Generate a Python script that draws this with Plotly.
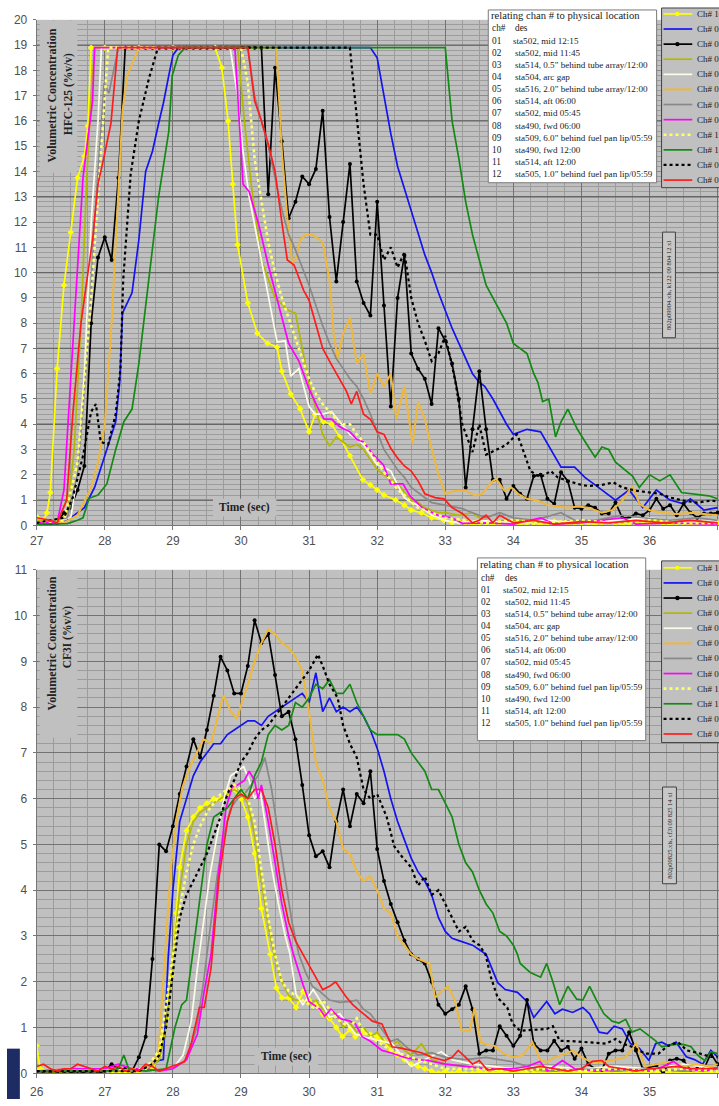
import plotly.graph_objects as go

W, H = 719, 1106


def PX(x):
    return x / W


def PY(y):
    return 1 - y / H


# ---------------- DATA : HFC-125 (top) ----------------
top_grid = [round(27 + 0.1 * i, 1) for i in range(101)]

top_ch10 = [(27.0,0.35),(27.1,0.2),(27.15,0.5),(27.2,1.3),(27.3,6.2),(27.4,9.5),(27.5,11.6),(27.6,13.75),(27.7,14.6),(27.75,15.8),(27.8,18.9),(28.0,18.9),(28.5,18.9),(29.0,18.9),(29.62,18.9),(29.72,18.1),(29.81,16.0),(29.88,13.5),(29.95,11.1),(30.1,8.8),(30.24,7.6),(30.39,7.2),(30.53,7.05),(30.6,6.1),(30.73,5.2),(30.87,4.6),(31.0,3.7),(31.09,4.4),(31.21,4.1),(31.33,4.0),(31.45,3.5),(31.6,2.75),(31.79,1.8),(31.9,1.6),(32.0,1.4),(32.1,1.2),(32.27,1.0),(32.4,0.8),(32.5,0.6),(32.65,0.5),(32.8,0.3),(32.98,0.2),(33.1,0.1),(33.2,0.15),(33.3,0.1),(33.4,0.05),(33.5,0.1),(33.6,0.1),(33.7,0.05),(33.8,0.1),(33.9,0.15),(34.0,0.1),(34.1,0.05),(34.2,0.1),(34.3,0.1),(34.4,0.05),(34.5,0.1),(34.6,0.15),(34.7,0.1),(34.8,0.05),(34.9,0.1),(35.0,0.1),(35.1,0.1),(35.2,0.05),(35.3,0.1),(35.4,0.15),(35.5,0.1),(35.6,0.05),(35.7,0.1),(35.8,0.1),(35.9,0.05),(36.0,0.1),(36.1,0.15),(36.2,0.1),(36.3,0.05),(36.4,0.1),(36.5,0.1),(36.6,0.05),(36.7,0.1),(36.8,0.1),(36.9,0.05),(37.0,0.1)]

top_ch02 = [(27.0,0.05),(27.2,0.05),(27.4,0.1),(27.5,0.3),(27.7,0.7),(27.85,1.5),(28.0,2.8),(28.16,4.1),(28.22,5.7),(28.26,8.4),(28.4,9.2),(28.5,11.3),(28.6,14.0),(28.7,14.8),(28.79,15.9),(28.86,16.7),(28.94,17.8),(29.0,18.6),(29.08,18.9),(31.9,18.9),(32.0,18.5),(32.1,17.0),(32.2,15.5),(32.3,14.2),(32.4,13.3),(32.5,12.5),(32.6,11.5),(32.7,10.7),(32.8,10.0),(32.9,9.2),(33.0,8.5),(33.1,7.8),(33.2,7.2),(33.3,6.6),(33.4,6.0),(33.5,5.66),(33.58,5.5),(33.7,5.0),(33.8,4.5),(33.9,4.0),(34.0,3.6),(34.2,3.8),(34.4,3.7),(34.55,3.0),(34.7,2.3),(34.9,2.3),(35.05,1.9),(35.2,1.6),(35.35,1.3),(35.5,1.0),(35.7,1.4),(35.9,0.7),(36.1,1.4),(36.3,1.0),(36.5,0.85),(36.6,1.05),(36.8,0.6),(37.0,0.7)]

top_ch03_v = [0.1,0.1,0.1,0.1,0.5,0.7,1.4,2.35,8.0,10.6,
              11.4,10.5,13.75,18.9,18.9,18.9,18.9,18.9,18.9,18.9,
              18.9,18.9,18.9,18.9,18.9,18.9,18.9,18.9,18.9,18.9,
              18.9,18.9,18.9,18.9,13.1,18.1,15.2,12.15,12.8,13.8,
              13.5,14.1,16.4,12.2,9.65,12.0,14.3,9.65,8.8,8.3,
              12.8,8.7,4.7,9.0,10.7,6.8,6.2,5.8,4.8,7.8,
              7.3,6.4,5.0,1.5,3.8,6.1,3.8,1.8,1.8,1.05,
              1.56,1.25,1.05,1.95,2.0,1.05,0.85,2.1,1.75,0.7,
              0.66,0.8,0.7,0.47,0.47,0.9,0.3,0.3,0.47,0.4,
              0.6,1.05,0.66,0.8,0.4,0.85,0.5,0.3,0.47,0.47,0.5]

top_ch04 = [(27.0,0.2),(27.3,0.1),(27.45,0.5),(27.55,3.0),(27.65,8.0),(27.74,14.0),(27.8,17.0),(27.85,18.9),(29.95,18.9),(30.05,16.0),(30.15,13.5),(30.3,10.5),(30.5,9.0),(30.7,8.5),(30.8,8.4),(30.9,7.0),(31.0,5.6),(31.1,4.6),(31.2,3.6),(31.3,3.15),(31.4,3.5),(31.5,3.3),(31.6,3.1),(31.7,3.2),(31.8,3.0),(31.9,2.6),(32.0,2.2),(32.1,2.0),(32.2,1.8),(32.3,1.64),(32.4,1.3),(32.5,1.0),(32.6,0.9),(32.7,0.7),(32.8,0.6),(32.9,0.5),(33.0,0.5),(33.2,0.4),(33.4,0.5),(33.5,0.3),(33.7,0.1),(34.0,0.2),(34.5,0.1),(35.0,0.15),(35.5,0.1),(36.0,0.2),(36.5,0.1),(37.0,0.1)]

top_ch05 = [(27.0,0.1),(27.5,0.3),(27.6,2.0),(27.7,6.0),(27.8,12.0),(27.9,16.0),(27.95,18.9),(29.84,18.9),(29.95,17.0),(30.03,14.8),(30.12,13.0),(30.26,11.1),(30.4,9.1),(30.53,7.25),(30.65,7.3),(30.73,5.9),(30.85,6.2),(31.0,4.7),(31.09,4.4),(31.2,4.4),(31.33,4.5),(31.45,4.1),(31.6,3.6),(31.8,3.2),(31.9,2.8),(32.0,2.4),(32.1,2.3),(32.2,2.15),(32.3,1.6),(32.4,1.1),(32.5,0.9),(32.6,0.8),(32.7,0.6),(32.8,0.4),(32.9,0.3),(33.0,0.2),(33.2,0.1),(33.5,0.2),(34.0,0.1),(34.5,0.2),(35.0,0.1),(35.5,0.2),(36.0,0.3),(36.5,0.1),(37.0,0.2)]

top_ch07 = [(27.0,0.1),(27.4,0.1),(27.6,0.4),(27.8,1.5),(27.9,2.5),(28.0,4.0),(28.1,8.0),(28.16,11.0),(28.26,16.4),(28.33,17.8),(28.47,18.7),(28.5,18.9),(30.52,18.9),(30.6,14.8),(30.68,12.2),(30.75,10.4),(30.8,10.5),(30.87,11.3),(30.95,11.5),(31.05,11.5),(31.2,11.2),(31.3,9.7),(31.36,7.6),(31.42,6.6),(31.5,7.6),(31.6,8.2),(31.7,6.4),(31.8,6.8),(31.9,5.2),(32.0,6.0),(32.1,5.5),(32.2,6.0),(32.28,4.2),(32.4,5.5),(32.52,3.2),(32.6,4.9),(32.7,4.2),(32.78,3.25),(32.9,2.0),(33.0,1.25),(33.15,1.37),(33.3,1.37),(33.44,1.17),(33.54,1.25),(33.7,1.76),(33.75,1.83),(33.87,1.37),(33.97,1.5),(34.07,1.25),(34.2,1.05),(34.36,0.98),(34.5,0.8),(34.65,0.75),(34.8,0.7),(34.95,0.75),(35.1,0.7),(35.3,0.5),(35.45,0.6),(35.6,0.98),(35.75,1.56),(35.85,0.85),(36.0,0.6),(36.2,0.5),(36.4,0.45),(36.6,0.5),(36.8,0.45),(37.0,0.4)]

top_ch06 = [(27.0,0.1),(27.45,0.3),(27.6,2.0),(27.75,7.0),(27.85,12.0),(27.95,16.0),(27.99,17.5),(28.06,17.1),(28.2,18.9),(30.1,18.9),(30.2,17.0),(30.4,15.0),(30.6,12.5),(30.7,11.5),(30.8,10.9),(31.0,9.5),(31.1,8.7),(31.2,7.9),(31.3,7.2),(31.4,6.6),(31.5,6.2),(31.6,5.8),(31.7,5.5),(31.8,5.0),(31.9,4.4),(32.0,3.7),(32.1,3.0),(32.2,2.6),(32.3,2.2),(32.4,1.9),(32.5,1.5),(32.6,1.3),(32.7,1.1),(32.8,0.9),(33.0,0.8),(33.25,0.66),(33.4,0.5),(33.6,0.3),(33.8,0.5),(34.0,0.3),(34.3,0.2),(34.7,0.5),(34.9,0.2),(35.2,0.2),(35.6,0.4),(35.9,0.3),(36.3,0.2),(36.7,0.3),(37.0,0.2)]

top_ch08 = [(27.0,0.1),(27.3,0.1),(27.4,1.4),(27.56,8.4),(27.68,13.75),(27.82,16.8),(27.85,18.9),(29.91,18.9),(29.97,16.0),(30.03,13.5),(30.12,13.2),(30.26,11.9),(30.4,10.3),(30.55,8.7),(30.7,7.2),(30.85,6.5),(31.0,5.4),(31.12,4.7),(31.22,4.2),(31.33,4.2),(31.45,3.9),(31.6,3.7),(31.7,3.4),(31.8,3.3),(31.94,2.8),(32.09,2.4),(32.2,1.64),(32.38,1.64),(32.48,1.17),(32.66,0.7),(32.9,0.39),(33.1,0.3),(33.25,0.08),(33.6,0.1),(34.0,0.05),(34.4,0.3),(34.6,0.05),(35.0,0.1),(35.6,0.3),(35.8,0.05),(36.3,0.1),(37.0,0.05)]

top_ch11 = [(27.0,0.1),(27.4,0.2),(27.6,2.5),(27.8,9.0),(27.9,13.0),(27.96,15.2),(28.05,18.9),(30.0,18.9),(30.1,17.5),(30.2,14.5),(30.3,12.8),(30.4,11.2),(30.5,10.0),(30.6,9.0),(30.7,8.2),(30.8,7.4),(30.9,6.6),(31.0,5.8),(31.1,5.2),(31.2,4.8),(31.3,4.5),(31.4,4.2),(31.5,4.0),(31.6,4.0),(31.7,3.6),(31.8,3.3),(31.9,2.9),(32.0,2.5),(32.1,2.1),(32.2,1.8),(32.3,1.4),(32.4,1.2),(32.5,0.9),(32.6,0.7),(32.8,0.5),(33.0,0.3),(33.3,0.2),(33.6,0.1),(34.0,0.2),(34.5,0.1),(35.0,0.2),(35.5,0.1),(36.0,0.2),(36.5,0.1),(37.0,0.1)]

top_ch12 = [(27.0,0.05),(27.45,0.07),(27.6,0.2),(27.68,0.3),(27.77,1.07),(27.9,1.2),(28.03,1.64),(28.16,3.0),(28.28,4.1),(28.4,4.6),(28.5,6.4),(28.65,9.7),(28.79,13.0),(28.94,15.6),(28.99,17.8),(29.08,18.6),(29.18,18.9),(33.0,18.9),(33.05,17.5),(33.1,16.0),(33.2,14.5),(33.3,12.8),(33.4,11.5),(33.5,10.5),(33.6,9.5),(33.7,9.0),(33.8,8.5),(33.9,8.0),(34.0,7.2),(34.1,7.0),(34.2,6.8),(34.3,6.0),(34.36,5.66),(34.43,4.9),(34.52,5.0),(34.62,3.5),(34.7,4.1),(34.8,4.6),(34.94,3.8),(35.08,3.2),(35.2,2.7),(35.3,3.1),(35.4,3.0),(35.5,2.5),(35.66,2.15),(35.75,1.95),(35.85,1.5),(36.0,2.0),(36.15,1.76),(36.3,2.0),(36.47,1.3),(36.6,1.25),(36.87,1.17),(37.0,1.05)]

top_ch09 = [(27.0,0.1),(27.4,0.3),(27.53,1.1),(27.68,2.75),(27.8,4.5),(27.87,4.8),(27.94,3.3),(28.05,3.2),(28.16,4.4),(28.23,6.2),(28.27,9.7),(28.38,13.9),(28.5,16.0),(28.65,17.7),(28.78,18.9),(31.6,18.9),(31.65,17.5),(31.7,16.2),(31.8,13.5),(31.9,11.5),(32.0,11.5),(32.1,10.5),(32.2,11.0),(32.3,10.2),(32.4,10.8),(32.5,9.0),(32.6,8.0),(32.7,7.3),(32.8,6.5),(32.9,6.8),(33.0,7.5),(33.1,6.3),(33.15,5.66),(33.25,4.0),(33.4,2.9),(33.5,4.0),(33.6,2.8),(33.8,3.05),(33.9,3.2),(34.05,3.6),(34.1,3.3),(34.25,2.15),(34.4,1.9),(34.55,2.15),(34.65,1.9),(34.8,1.76),(35.0,1.6),(35.1,1.56),(35.3,1.6),(35.47,1.7),(35.6,1.5),(35.8,1.37),(36.0,1.3),(36.15,1.25),(36.3,1.1),(36.5,0.98),(36.7,0.9),(36.9,0.98),(37.0,0.95)]

top_ch01 = [(27.0,0.3),(27.2,0.2),(27.3,0.1),(27.44,1.0),(27.53,4.4),(27.65,8.0),(27.82,11.3),(27.9,13.5),(27.99,14.6),(28.09,15.9),(28.19,18.9),(30.1,18.9),(30.2,16.8),(30.3,16.0),(30.4,15.1),(30.5,14.0),(30.6,12.0),(30.68,10.5),(30.78,10.3),(30.92,9.3),(31.0,8.9),(31.1,8.0),(31.2,7.0),(31.32,6.4),(31.43,5.9),(31.55,5.3),(31.62,4.8),(31.7,5.3),(31.8,4.4),(31.9,4.2),(32.0,3.7),(32.1,3.6),(32.2,3.05),(32.3,2.66),(32.4,2.35),(32.5,2.15),(32.6,1.76),(32.7,1.25),(32.85,1.1),(32.98,1.05),(33.1,0.7),(33.25,0.47),(33.4,0.1),(33.5,0.2),(33.6,0.4),(33.7,0.1),(33.8,0.4),(34.0,0.1),(34.3,0.2),(34.6,0.05),(35.0,0.15),(35.4,0.1),(35.8,0.2),(36.2,0.1),(36.6,0.2),(37.0,0.1)]

# ---------------- DATA : CF3I (bottom) ----------------
bot_grid = [round(26 + 0.1 * i, 1) for i in range(101)]

bot_ch10 = [(26.0,0.6),(26.05,0.1),(26.1,0.05),(26.3,0.0),(26.5,0.05),(26.7,0.1),(26.9,0.05),(27.1,0.05),(27.3,0.0),(27.5,0.05),(27.7,0.1),(27.8,0.4),(27.9,1.2),(27.98,2.15),(28.05,3.5),(28.1,4.5),(28.2,5.3),(28.3,5.6),(28.4,5.8),(28.5,5.9),(28.6,6.0),(28.7,6.0),(28.8,6.1),(28.9,6.2),(29.0,6.0),(29.1,5.6),(29.2,4.8),(29.3,3.6),(29.43,2.6),(29.52,1.87),(29.6,1.65),(29.7,1.65),(29.81,1.44),(29.91,1.79),(30.0,1.6),(30.1,1.5),(30.2,1.3),(30.3,1.2),(30.4,1.0),(30.49,0.8),(30.6,0.95),(30.68,0.8),(30.8,0.9),(30.9,0.85),(31.0,0.8),(31.1,0.7),(31.2,0.5),(31.3,0.4),(31.4,0.3),(31.5,0.2),(31.6,0.15),(31.7,0.1),(31.8,0.05),(31.9,0.0),(32.0,0.05),(32.1,0.0),(32.2,0.05),(32.3,0.0),(32.4,0.0),(32.5,0.05),(32.6,0.0),(32.7,0.0),(32.8,0.05),(32.9,0.0),(33.0,0.0),(33.1,0.05),(33.2,0.0),(33.3,0.0),(33.4,0.05),(33.5,0.0),(33.6,0.0),(33.7,0.05),(33.8,0.0),(33.9,0.0),(34.0,0.05),(34.1,0.0),(34.2,0.0),(34.3,0.05),(34.4,0.0),(34.5,0.0),(34.6,0.05),(34.7,0.0),(34.8,0.0),(34.9,0.05),(35.0,0.0),(35.1,0.0),(35.2,0.05),(35.3,0.0),(35.4,0.0),(35.5,0.05),(35.6,0.0),(35.7,0.0),(35.8,0.05),(35.9,0.0),(36.0,0.0)]

bot_ch02 = [(26.0,0.05),(26.5,0.05),(27.0,0.05),(27.5,0.1),(27.7,0.2),(27.79,0.28),(27.86,0.3),(27.93,2.5),(28.0,4.0),(28.1,5.5),(28.2,6.0),(28.3,6.5),(28.4,6.8),(28.5,7.0),(28.6,7.2),(28.7,7.2),(28.8,7.4),(28.9,7.5),(29.0,7.6),(29.1,7.7),(29.2,7.7),(29.3,7.6),(29.4,7.8),(29.5,7.9),(29.6,8.0),(29.7,8.1),(29.8,8.2),(29.9,8.3),(30.0,8.1),(30.1,8.75),(30.2,7.9),(30.3,8.2),(30.4,7.9),(30.5,8.0),(30.6,7.9),(30.7,8.0),(30.8,7.8),(30.9,7.5),(31.0,7.1),(31.1,6.6),(31.2,6.0),(31.3,5.5),(31.4,5.1),(31.5,4.7),(31.6,4.4),(31.7,4.2),(31.8,3.9),(31.9,3.4),(32.0,3.1),(32.1,2.95),(32.2,2.9),(32.3,2.85),(32.4,2.8),(32.5,2.7),(32.6,2.6),(32.77,1.98),(32.88,1.83),(33.06,1.77),(33.2,1.57),(33.3,1.22),(33.49,1.57),(33.61,1.3),(33.72,1.4),(33.87,1.33),(34.02,1.44),(34.12,1.3),(34.26,0.9),(34.38,0.87),(34.48,1.03),(34.6,0.97),(34.72,0.65),(34.85,0.55),(34.99,0.28),(35.09,0.65),(35.18,0.68),(35.28,0.6),(35.39,0.68),(35.54,0.36),(35.66,0.3),(35.78,0.2),(35.9,0.5),(36.0,0.36)]

bot_ch03_v = [0,0,0,0,0,0,0.05,0,0,0,
              0.05,0.2,0.1,0.1,0.05,0.35,0.8,2.5,5.0,4.85,
              5.4,6.1,6.7,7.3,6.9,7.5,8.25,9.1,8.8,8.3,
              8.3,8.9,9.9,9.4,9.6,8.7,7.8,7.9,7.3,6.3,
              5.2,4.74,4.85,4.5,5.5,6.2,5.4,6.1,5.9,6.6,
              4.9,4.2,3.7,3.3,2.9,2.6,2.5,2.4,2.0,1.5,
              1.3,1.4,1.5,1.9,1.4,0.43,0.5,0.5,1.03,0.82,
              0.6,0.82,1.6,0.65,0.5,0.5,0.71,0.5,0.58,0.32,
              0.54,0.2,0.1,0.07,0.43,0.5,0.5,0.9,0.5,0.1,
              0.12,0.17,0.0,0.28,0.32,0.28,0.07,0.1,0.1,0.43,0.2]

bot_ch04 = [(26.0,0.05),(27.0,0.05),(27.6,0.05),(27.8,0.3),(27.9,1.0),(28.0,2.5),(28.1,4.0),(28.2,5.0),(28.3,5.5),(28.4,5.7),(28.5,5.8),(28.6,5.9),(28.7,6.0),(28.8,6.1),(28.9,6.2),(29.0,6.1),(29.1,5.9),(29.2,5.2),(29.3,4.2),(29.4,3.2),(29.5,2.5),(29.6,2.0),(29.7,1.7),(29.8,1.6),(29.9,1.6),(30.0,1.5),(30.1,1.6),(30.2,1.4),(30.3,1.2),(30.4,1.3),(30.5,1.0),(30.6,1.1),(30.7,0.9),(30.8,1.0),(30.9,0.8),(31.0,0.9),(31.1,0.7),(31.2,0.6),(31.3,0.7),(31.4,0.5),(31.5,0.4),(31.65,0.65),(31.8,0.3),(32.0,0.2),(32.3,0.15),(32.6,0.1),(33.0,0.1),(33.5,0.05),(34.0,0.1),(34.5,0.05),(35.0,0.1),(35.5,0.05),(36.0,0.1)]

bot_ch05 = [(26.0,0.05),(26.5,0.05),(27.0,0.1),(27.5,0.05),(28.0,0.1),(28.15,0.4),(28.27,1.14),(28.36,2.3),(28.45,3.3),(28.54,4.3),(28.65,5.2),(28.75,6.0),(28.85,6.5),(28.95,6.6),(29.04,6.7),(29.12,6.4),(29.2,6.0),(29.28,6.2),(29.35,5.5),(29.45,4.5),(29.55,3.7),(29.65,3.0),(29.72,2.6),(29.81,1.72),(29.91,1.5),(30.06,1.83),(30.2,1.5),(30.3,1.22),(30.45,1.3),(30.6,1.0),(30.68,0.86),(30.8,0.8),(30.95,0.75),(31.1,0.7),(31.22,0.65),(31.35,0.4),(31.5,0.15),(31.7,0.3),(31.94,0.47),(32.1,0.3),(32.4,0.2),(32.7,0.15),(33.0,0.1),(33.5,0.15),(34.0,0.1),(34.5,0.15),(35.0,0.1),(35.5,0.2),(36.0,0.1)]

bot_ch07 = [(26.0,0.05),(26.5,0.1),(27.0,0.05),(27.3,0.05),(27.5,0.1),(27.7,0.2),(27.79,0.5),(27.88,2.6),(27.97,4.5),(28.06,5.6),(28.14,6.25),(28.25,6.7),(28.35,7.0),(28.45,7.3),(28.56,7.2),(28.71,8.1),(28.75,8.25),(28.85,7.9),(28.94,7.75),(29.04,8.2),(29.12,8.6),(29.2,9.0),(29.3,9.4),(29.4,9.7),(29.5,9.6),(29.6,9.4),(29.7,9.3),(29.8,9.1),(29.9,8.8),(30.0,7.9),(30.1,6.8),(30.2,6.4),(30.3,5.8),(30.4,5.5),(30.5,4.9),(30.6,4.8),(30.7,4.4),(30.8,4.2),(30.9,4.3),(31.0,4.0),(31.1,3.6),(31.2,3.5),(31.3,3.0),(31.4,2.8),(31.5,2.6),(31.6,2.5),(31.7,2.45),(31.77,2.4),(31.85,1.65),(31.95,1.8),(32.04,1.9),(32.14,1.6),(32.24,0.93),(32.36,0.93),(32.43,1.44),(32.52,0.68),(32.62,0.62),(32.72,0.6),(32.86,0.43),(33.0,0.35),(33.14,0.4),(33.28,0.68),(33.4,0.28),(33.5,0.25),(33.6,0.35),(33.78,0.43),(33.87,0.5),(34.0,0.35),(34.15,0.25),(34.3,0.25),(34.5,0.3),(34.65,0.36),(34.8,0.65),(34.94,0.15),(35.1,0.2),(35.3,0.25),(35.5,0.15),(35.7,0.2),(35.9,0.15),(36.0,0.2)]

bot_ch06 = [(26.0,0.05),(27.0,0.05),(27.5,0.05),(28.0,0.1),(28.2,0.3),(28.35,1.0),(28.45,2.0),(28.55,3.2),(28.65,4.3),(28.75,5.2),(28.85,5.8),(28.95,6.0),(29.05,6.1),(29.15,6.3),(29.25,6.5),(29.35,6.9),(29.45,6.2),(29.55,5.2),(29.65,4.2),(29.75,3.3),(29.85,2.6),(29.95,2.2),(30.05,1.9),(30.15,1.8),(30.3,1.6),(30.45,1.55),(30.6,1.57),(30.7,1.6),(30.8,1.4),(30.9,1.3),(31.0,1.1),(31.1,0.9),(31.2,0.7),(31.3,0.75),(31.45,0.55),(31.6,0.4),(31.8,0.45),(32.0,0.35),(32.3,0.3),(32.6,0.35),(33.0,0.25),(33.3,0.1),(33.6,0.05),(34.0,0.1),(34.5,0.05),(35.0,0.1),(35.5,0.05),(36.0,0.1)]

bot_ch08 = [(26.0,0.05),(26.5,0.1),(27.0,0.1),(27.2,0.2),(27.4,0.1),(27.6,0.1),(27.8,0.05),(28.0,0.1),(28.2,0.3),(28.36,0.86),(28.46,1.8),(28.56,2.6),(28.68,4.5),(28.78,5.8),(28.87,6.25),(28.95,6.3),(29.05,6.4),(29.12,6.6),(29.2,6.4),(29.25,6.0),(29.3,6.3),(29.4,5.5),(29.5,4.6),(29.6,3.7),(29.7,3.0),(29.77,2.6),(29.91,1.94),(30.0,1.57),(30.16,1.4),(30.23,1.25),(30.32,1.4),(30.45,1.2),(30.6,1.14),(30.68,1.08),(30.78,0.8),(30.9,0.7),(31.07,0.5),(31.2,0.45),(31.4,0.35),(31.6,0.3),(31.75,0.28),(32.0,0.2),(32.3,0.15),(32.6,0.1),(33.0,0.1),(33.2,0.15),(33.39,0.26),(33.5,0.05),(33.72,0.28),(33.9,0.1),(34.2,0.05),(34.6,0.1),(35.0,0.05),(35.2,0.15),(35.35,0.26),(35.5,0.1),(35.8,0.05),(36.0,0.1)]

bot_ch11 = [(26.0,0.05),(27.0,0.05),(27.6,0.1),(27.8,0.5),(27.9,1.5),(28.0,2.6),(28.1,3.6),(28.2,4.4),(28.3,5.0),(28.4,5.4),(28.5,5.7),(28.6,5.9),(28.7,6.1),(28.8,6.2),(28.9,6.3),(29.0,6.2),(29.1,6.0),(29.2,5.5),(29.3,4.5),(29.4,3.4),(29.5,2.6),(29.6,2.0),(29.7,1.8),(29.8,1.7),(29.9,1.6),(30.0,1.5),(30.1,1.4),(30.2,1.6),(30.3,1.4),(30.4,1.2),(30.5,1.1),(30.6,1.0),(30.7,1.2),(30.8,0.9),(30.9,0.8),(31.0,0.7),(31.1,0.6),(31.2,0.5),(31.4,0.4),(31.6,0.3),(31.8,0.2),(32.0,0.1),(32.5,0.1),(33.0,0.05),(33.5,0.1),(34.0,0.05),(34.5,0.1),(35.0,0.05),(35.5,0.1),(36.0,0.05)]

bot_ch12 = [(26.0,0.05),(26.5,0.05),(27.0,0.05),(27.2,0.1),(27.28,0.4),(27.35,0.1),(27.6,0.05),(27.9,0.1),(28.03,1.0),(28.13,1.5),(28.2,1.6),(28.29,2.6),(28.4,3.8),(28.5,5.0),(28.6,5.6),(28.7,5.7),(28.8,5.8),(28.9,6.0),(29.0,6.2),(29.1,6.0),(29.2,6.5),(29.3,6.8),(29.4,7.4),(29.5,7.6),(29.6,7.5),(29.7,7.6),(29.8,8.1),(29.9,8.0),(30.0,8.2),(30.1,8.5),(30.2,8.4),(30.3,8.6),(30.4,8.3),(30.5,8.3),(30.6,8.5),(30.7,8.1),(30.8,7.8),(30.9,7.5),(31.0,7.4),(31.1,7.4),(31.2,7.4),(31.3,7.4),(31.4,7.3),(31.5,7.0),(31.6,6.8),(31.7,6.6),(31.8,6.2),(31.9,6.2),(32.0,5.9),(32.1,5.6),(32.2,5.0),(32.3,4.6),(32.4,4.4),(32.5,4.0),(32.6,3.7),(32.7,3.5),(32.8,3.1),(32.9,3.0),(33.0,2.8),(33.06,2.6),(33.1,2.4),(33.25,2.2),(33.4,2.1),(33.49,2.4),(33.58,2.0),(33.68,1.5),(33.8,1.9),(33.93,1.62),(34.02,1.6),(34.12,1.9),(34.22,1.6),(34.33,1.3),(34.45,1.14),(34.55,1.1),(34.65,1.18),(34.74,0.9),(34.86,0.97),(34.97,0.85),(35.09,0.71),(35.18,0.58),(35.3,0.62),(35.42,0.65),(35.52,0.62),(35.61,0.58),(35.71,0.39),(35.81,0.28),(35.9,0.47),(36.0,0.43)]

bot_ch09 = [(26.0,0.05),(27.0,0.05),(27.5,0.05),(27.7,0.2),(27.8,0.4),(27.9,1.0),(28.03,2.6),(28.1,3.4),(28.2,3.9),(28.3,4.2),(28.4,4.5),(28.5,4.8),(28.6,5.2),(28.7,5.6),(28.8,6.1),(28.9,6.4),(29.0,6.8),(29.1,7.0),(29.2,7.3),(29.3,7.5),(29.4,7.6),(29.5,7.8),(29.6,8.0),(29.7,8.2),(29.8,8.4),(29.9,8.6),(30.0,8.8),(30.13,9.15),(30.2,8.9),(30.3,8.5),(30.42,8.2),(30.5,7.6),(30.6,7.2),(30.7,6.9),(30.8,6.2),(30.9,6.0),(31.0,6.1),(31.14,5.6),(31.25,4.96),(31.36,4.74),(31.5,4.5),(31.6,4.1),(31.7,4.3),(31.8,3.9),(31.9,4.0),(32.0,3.7),(32.1,3.4),(32.2,3.1),(32.3,3.2),(32.4,2.9),(32.5,2.8),(32.59,2.6),(32.67,2.1),(32.77,1.65),(32.91,1.44),(32.99,1.08),(33.1,0.93),(33.3,0.95),(33.49,0.97),(33.58,1.03),(33.68,0.71),(33.9,0.7),(34.07,0.68),(34.2,0.68),(34.36,0.65),(34.5,0.75),(34.6,0.65),(34.74,0.58),(34.94,0.43),(35.13,0.43),(35.27,0.6),(35.42,0.68),(35.55,0.5),(35.7,0.45),(35.9,0.36),(36.0,0.35)]

bot_ch01 = [(26.0,0.15),(26.1,0.2),(26.2,0.1),(26.3,0.05),(26.4,0.1),(26.5,0.1),(26.6,0.2),(26.7,0.15),(26.8,0.1),(26.9,0.05),(27.0,0.15),(27.1,0.1),(27.2,0.15),(27.3,0.05),(27.4,0.1),(27.5,0.05),(27.6,0.2),(27.7,0.15),(27.8,0.05),(27.9,0.1),(28.0,0.15),(28.07,0.2),(28.17,0.25),(28.27,0.65),(28.39,1.44),(28.46,1.44),(28.56,2.3),(28.68,4.3),(28.8,5.5),(28.9,6.0),(29.0,6.1),(29.1,6.0),(29.2,6.2),(29.3,6.2),(29.4,5.8),(29.5,5.0),(29.6,4.0),(29.7,3.3),(29.8,2.9),(29.91,2.6),(30.06,2.2),(30.2,1.83),(30.3,1.9),(30.39,2.0),(30.54,1.68),(30.64,1.5),(30.75,1.36),(30.93,1.14),(31.07,1.08),(31.15,0.8),(31.22,0.58),(31.35,0.55),(31.5,0.5),(31.65,0.45),(31.8,0.35),(31.99,0.28),(32.1,0.35),(32.19,0.5),(32.3,0.35),(32.4,0.2),(32.5,0.28),(32.62,0.07),(32.8,0.1),(33.0,0.05),(33.2,0.1),(33.4,0.15),(33.6,0.1),(33.8,0.05),(34.0,0.1),(34.16,0.26),(34.3,0.28),(34.4,0.15),(34.6,0.1),(34.8,0.05),(35.0,0.1),(35.2,0.12),(35.4,0.15),(35.6,0.1),(35.8,0.1),(36.0,0.12)]

table_ch = ["01", "02", "03", "04", "05", "06", "07", "08", "09", "10", "11", "12"]
table_des = ["sta502, mid 12:15", "sta502, mid 11:45",
             "sta514, 0.5\" behind tube array/12:00", "sta504, arc gap",
             "sta516, 2.0\" behind tube array/12:00", "sta514, aft 06:00",
             "sta502, mid 05:45", "sta490, fwd 06:00",
             "sta509, 6.0\" behind fuel pan lip/05:59", "sta490, fwd 12:00",
             "sta514, aft 12:00", "sta505, 1.0\" behind fuel pan lip/05:59"]

legend_names = ["Ch# 10", "Ch# 02", "Ch# 03", "Ch# 04", "Ch# 05", "Ch# 07",
                "Ch# 06", "Ch# 08", "Ch# 11", "Ch# 12", "Ch# 09", "Ch# 01"]

# heavier horizontal grid lines of the HFC-125 panel
top_heavy_grid = [1, 4, 7, 10, 13, 16, 19]

# ---------------- STYLES ----------------
styles = [
    dict(color="#ffff00", dash="solid", width=1.7, marker="diamond"),
    dict(color="#1414f0", dash="solid", width=1.7, marker=None),
    dict(color="#000000", dash="solid", width=1.7, marker="circle"),
    dict(color="#b2b800", dash="solid", width=1.7, marker=None),
    dict(color="#fbfbe8", dash="solid", width=1.7, marker=None),
    dict(color="#eeb83a", dash="solid", width=2.0, marker=None),
    dict(color="#888888", dash="solid", width=1.7, marker=None),
    dict(color="#ff00ff", dash="solid", width=1.7, marker=None),
    dict(color="#ffff66", dash="dot", width=2.6, marker=None),
    dict(color="#138a13", dash="solid", width=1.7, marker=None),
    dict(color="#000000", dash="dot", width=2.2, marker=None),
    dict(color="#ff1c1c", dash="solid", width=1.7, marker=None),
]


def split(pairs):
    return [p[0] for p in pairs], [p[1] for p in pairs]


top_series = [split(top_ch10), split(top_ch02), (top_grid, top_ch03_v), split(top_ch04),
              split(top_ch05), split(top_ch07), split(top_ch06), split(top_ch08),
              split(top_ch11), split(top_ch12), split(top_ch09), split(top_ch01)]
bot_series = [split(bot_ch10), split(bot_ch02), (bot_grid, bot_ch03_v), split(bot_ch04),
              split(bot_ch05), split(bot_ch07), split(bot_ch06), split(bot_ch08),
              split(bot_ch11), split(bot_ch12), split(bot_ch09), split(bot_ch01)]

fig = go.Figure()

# heavier grid lines of the top panel, drawn first so they sit beneath the data
hx, hy = [], []
for k in top_heavy_grid:
    hx += [27, 37.02, None]
    hy += [k, k, None]
fig.add_trace(go.Scatter(x=hx, y=hy, mode="lines", xaxis="x", yaxis="y", showlegend=False,
                         hoverinfo="skip", line=dict(color="#666666", width=1.3)))

for panel, series in ((("x", "y"), top_series), (("x2", "y2"), bot_series)):
    for i, (t, v) in enumerate(series):
        st = styles[i]
        mode = "lines+markers" if st["marker"] else "lines"
        kw = {}
        if st["marker"]:
            kw["marker"] = dict(symbol=st["marker"], size=4 if st["marker"] == "circle" else 5,
                                color=st["color"], line=dict(width=0))
        fig.add_trace(go.Scatter(x=t, y=v, mode=mode, name=legend_names[i],
                                 xaxis=panel[0], yaxis=panel[1], showlegend=False,
                                 line=dict(color=st["color"], width=st["width"], dash=st["dash"]),
                                 hoverinfo="skip", **kw))

PLOT_BG = "#c0c0c0"
MINOR = "#9c9c9c"
MID = "#8a8a8a"
MAJOR = "#727272"
tickfont = dict(family="Liberation Sans, Arial, sans-serif", size=12, color="#505050")

xdom = [PX(30), 1.0]
common_x = dict(dtick=1, showgrid=True, gridcolor=MAJOR, gridwidth=1, zeroline=False,
                showline=True, linecolor="#777777", ticks="outside", ticklen=4, tickcolor="#777777",
                tickfont=tickfont,
                minor=dict(dtick=0.25, showgrid=True, gridcolor=MINOR, gridwidth=1, ticks=""))


def common_y(gc):
    return dict(dtick=1, showgrid=True, gridcolor=gc, gridwidth=1, zeroline=False,
                showline=True, linecolor="#777777", ticks="outside", ticklen=3,
                tickcolor="#777777", tickfont=tickfont, ticklabelstandoff=3,
                minor=dict(dtick=0.2, showgrid=True, gridcolor=MINOR, gridwidth=1, ticks=""))


fig.update_layout(
    width=W, height=H, margin=dict(l=0, r=0, t=0, b=0),
    paper_bgcolor="white", plot_bgcolor=PLOT_BG, showlegend=False,
    xaxis=dict(domain=xdom, range=[27, 37.02], anchor="y", **common_x),
    yaxis=dict(domain=[PY(525), PY(13)], range=[0, 20], anchor="x", **common_y(MID)),
    xaxis2=dict(domain=xdom, range=[26, 36.02], anchor="y2", ticklabelstandoff=3, **common_x),
    yaxis2=dict(domain=[PY(1080), PY(570)], range=[0, 11], anchor="x2", **common_y(MAJOR)),
)

shapes = []
annots = []
serif = "Liberation Serif, Times New Roman, serif"


def rect(x0, y0, x1, y1, fill, line="#606060", lw=1):
    shapes.append(dict(type="rect", xref="paper", yref="paper", x0=PX(x0), x1=PX(x1),
                       y0=PY(y1), y1=PY(y0), fillcolor=fill,
                       line=dict(color=line, width=lw), layer="above"))


def text(x, y, s, size=8, anchor="left", angle=0, bold=False, color="#1a1a1a", fam=serif):
    if bold:
        s = "<b>" + s + "</b>"
    annots.append(dict(xref="paper", yref="paper", x=PX(x), y=PY(y), text=s, showarrow=False,
                       xanchor=anchor, yanchor="middle", textangle=angle,
                       font=dict(family=fam, size=size, color=color)))


panels = [
    dict(ttl_box=(33, 14, 71, 168), ttl1=(45, 90), ttl2=(62, 88, "HFC-125 (%v/v)"),
         time=(208, 498, 272, 516), time_c=(240, 507),
         table=(486, 3, 656, 178), rows_y0=34, title_y=9, head_y=21, col1=488, col2=511,
         legend=(661, 1, 730, 183), leg_y0=7,
         file=(662, 228, 675, 335), file_txt="802p09904.xls, k122 09 804 12 xl"),
    dict(ttl_box=(33, 571, 71, 740), ttl1=(45, 645), ttl2=(62, 638, "CF3I (%v/v)"),
         time=(250, 1054, 314, 1072), time_c=(282, 1063),
         table=(475, 558, 645, 743), rows_y0=590, title_y=565, head_y=578, col1=477, col2=501,
         legend=(661, 561, 730, 745), leg_y0=568,
         file=(662, 790, 676, 888), file_txt="802p09825.xls, cf3i 09 825 14 xl"),
]

for p in panels:
    bx = p["ttl_box"]
    rect(bx[0], bx[1], bx[2], bx[3], PLOT_BG, line=PLOT_BG, lw=0)
    text(p["ttl1"][0], p["ttl1"][1], "Volumetric Concentration", size=12, anchor="center",
         angle=-90, bold=True, color="#222222")
    text(p["ttl2"][0], p["ttl2"][1], p["ttl2"][2], size=11.5, anchor="center", angle=-90,
         bold=True, color="#222222")
    tb = p["time"]
    rect(tb[0], tb[1], tb[2], tb[3], PLOT_BG, line=PLOT_BG, lw=0)
    text(p["time_c"][0], p["time_c"][1], "Time (sec)", size=11.5, anchor="center", bold=True,
         color="#222222")
    t = p["table"]
    rect(t[0], t[1], t[2], t[3], "white", line="#7a7a7a", lw=1)
    text(p["col1"] - 1, p["title_y"], "relating chan # to physical location", size=10.6)
    text(p["col1"], p["head_y"], "ch#", size=9.3)
    text(p["col2"], p["head_y"], "des", size=9.3)
    for i, (c, d) in enumerate(zip(table_ch, table_des)):
        yy = p["rows_y0"] + 12.3 * i
        text(p["col1"], yy, c, size=9.3)
        text(p["col2"] + (0 if i else -2), yy, d, size=9.1)
    lg = p["legend"]
    rect(lg[0], lg[1], lg[2], lg[3], PLOT_BG, line="#404040", lw=1)
    for i, st in enumerate(styles):
        yy = p["leg_y0"] + 15.3 * i
        shapes.append(dict(type="line", xref="paper", yref="paper", x0=PX(663), x1=PX(692),
                           y0=PY(yy), y1=PY(yy), layer="above",
                           line=dict(color=st["color"], width=st["width"],
                                     dash="dot" if st["dash"] == "dot" else "solid")))
        if st["marker"]:
            r = 2.2
            shapes.append(dict(type="circle", xref="paper", yref="paper",
                               x0=PX(677 - r), x1=PX(677 + r), y0=PY(yy + r), y1=PY(yy - r),
                               fillcolor=st["color"], line=dict(width=0), layer="above"))
        text(695, yy, legend_names[i], size=9)
    f = p["file"]
    rect(f[0], f[1], f[2], f[3], "#c8c8c8", line="#404040", lw=1)
    text((f[0] + f[2]) / 2, (f[1] + f[3]) / 2, p["file_txt"], size=6.5, anchor="center",
         angle=-90)

shapes.append(dict(type="rect", xref="paper", yref="paper", x0=0, x1=PX(13), y0=0, y1=PY(1055),
                   fillcolor="#1d2d64", line=dict(width=0), layer="above"))

fig.update_layout(shapes=shapes, annotations=annots)
fig.write_html("out.html")
